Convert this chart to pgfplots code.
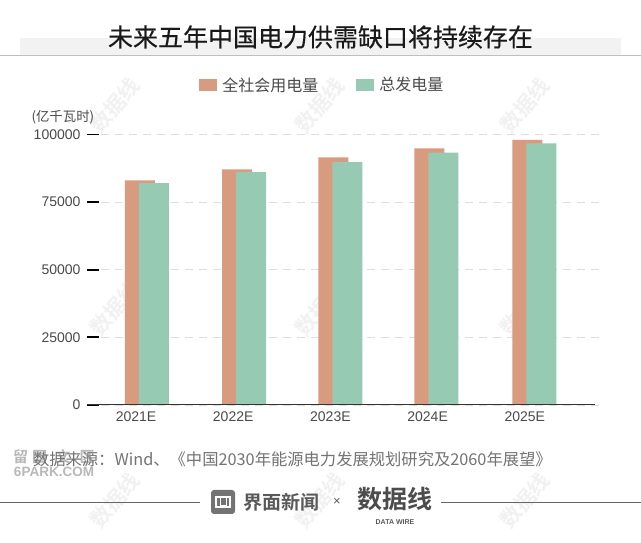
\documentclass[border=0pt]{standalone}
\usepackage{fontspec}
\usepackage{pgfplots}
\pgfplotsset{compat=1.18}
\setmainfont{Liberation Sans}
\newfontfamily\cjk{Noto Sans CJK SC}
\newfontfamily\cjkm[FakeBold=0.35]{Noto Sans CJK SC}
\newfontfamily\cjkb{Noto Sans CJK SC Bold}
\definecolor{useclr}{HTML}{D99B80}
\definecolor{genclr}{HTML}{96CAB3}
\definecolor{txt}{HTML}{4A4A4A}
\definecolor{wm}{HTML}{F1F1F1}
\newcommand{\fs}[1]{\fontsize{#1}{#1}\selectfont}
\begin{document}
\begin{tikzpicture}[x=1pt,y=1pt]
\useasboundingbox (0,0) rectangle (641,543);
\fill[white] (0,0) rectangle (641,543);
% title band
\fill[black!5] (20,488) rectangle (621,505);
\draw[black!25,line width=0.8pt] (0,488) -- (641,488);
\node[anchor=center,text=black!90] at (320.5,506) {\cjkm\fs{25}未来五年中国电力供需缺口将持续存在};
% watermarks
\foreach \px/\py in {115/438,320/438,525/438,115/235,320/235,525/235,115/43,320/43,525/43}
  \node[rotate=50,text=wm] at (\px,\py) {\cjkb\fs{21}数据线};
\begin{axis}[
  at={(87pt,138pt)},
  anchor=south west,
  scale only axis,
  width=512pt,
  height=270.5pt,
  xmin=-0.504, xmax=4.763,
  ymin=0, ymax=100000,
  axis x line=bottom,
  axis y line=left,
  axis line style={draw=none},
  xtick={0,1,2,3,4},
  xticklabels={2021E,2022E,2023E,2024E,2025E},
  ytick={0,25000,50000,75000,100000},
  ymajorgrids,
  grid style={dash pattern=on 8pt off 6pt,black!13,line width=0.6pt},
  x tick style={draw=none},
  y tick style={draw=black,line width=1.8pt},
  tick align=inside,
  major tick length=12pt,
  /pgf/number format/fixed,
  /pgf/number format/assume math mode=true,
  /pgf/number format/1000 sep={},
  scaled y ticks=false,
  tick label style={text=txt,font=\fs{14}},
  x tick label style={yshift=-3pt},
  y tick label style={xshift=-3pt},
  legend style={at={(0.4595,1.183)},anchor=center,draw=none,fill=none,
    legend columns=2,font=\cjk\fs{16},text=txt,
    /tikz/every odd column/.append style={column sep=3pt},
    /tikz/every even column/.append style={column sep=36pt}},
  legend image code/.code={\fill[#1] (0pt,-6pt) rectangle (18pt,6pt);},
  clip=false,
]
\addplot[ybar,bar width=30pt,bar shift=4pt,fill=useclr,draw=none]
  coordinates {(0,83000) (1,87100) (1.989,91500) (2.976,94900) (3.985,98000)};
\addplot[ybar,bar width=30pt,bar shift=18pt,fill=genclr,draw=none]
  coordinates {(0,82000) (1,86100) (1.989,89800) (2.976,93300) (3.985,96700)};
\legend{全社会用电量,总发电量}
\end{axis}
\draw[black!80,line width=1pt] (87,138) -- (595,138);
\node[anchor=west,text=txt] at (28,425.5) {\cjk\fs{13.4}(亿千瓦时)};
% source and footer
\foreach \px/\ch in {20.5/留,39.5/园,63/文,87/区}
  \node[text=black!28] at (\px,86) {\cjkb\fs{15}\ch};
\node[text=black!28] at (54,71) {\bfseries\fs{13.5}6PARK.COM};
\node[anchor=west,text=black!55] at (29.5,84) {\cjk\fs{16.3}数据来源：Wind、《中国2030年能源电力发展规划研究及2060年展望》};
\draw[black!60,line width=0.8pt] (0,41) -- (200,41);
\draw[black!60,line width=0.8pt] (441,41) -- (641,41);
\fill[black!55,rounded corners=3pt] (211,29) rectangle (235,53);
\draw[white,line width=1.4pt] (216,36) rectangle (230,46);
\draw[white,line width=1pt] (220,37) rectangle (226,45);
\node[text=black!65] at (281,41) {\cjkb\fs{19}界面新闻};
\node[text=black!65] at (337,41) {\fs{13}×};
\node[text=black!70] at (395,44) {\cjkb\fs{25}数据线};
\node[text=black!65] at (395,21) {\bfseries\fs{7}DATA WIRE};
\end{tikzpicture}
\end{document}
